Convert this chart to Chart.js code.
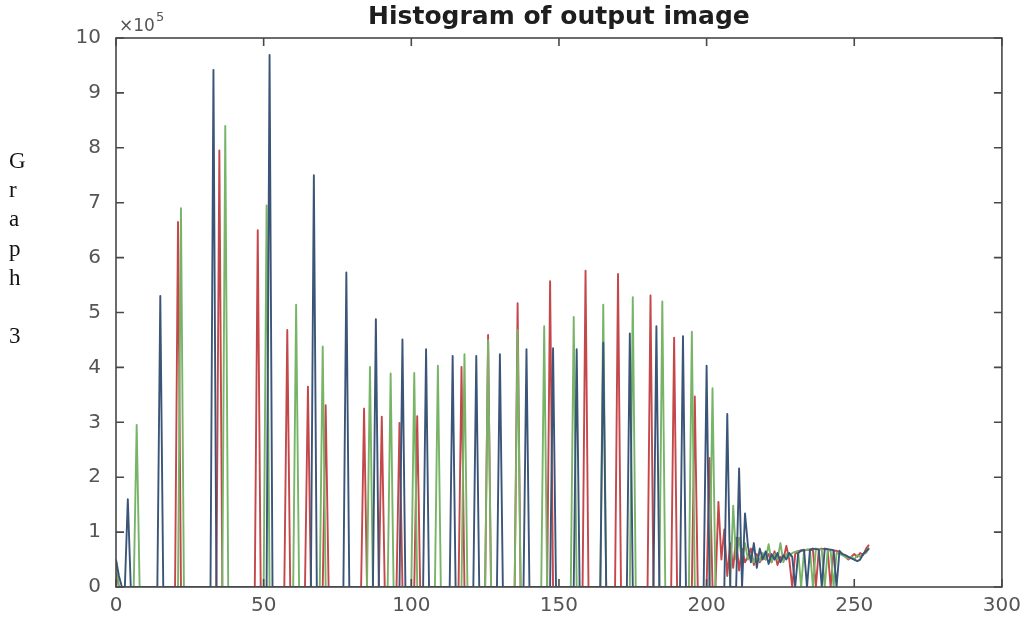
<!DOCTYPE html>
<html>
<head>
<meta charset="utf-8">
<title>Histogram of output image</title>
<script src="https://cdn.jsdelivr.net/npm/chart.js@4/dist/chart.umd.min.js"></script>
<style>
    body { margin: 0; background: #fff; }
    #wrap { position: relative; width: 1028px; height: 624px; }
    #myChart { position: absolute; left: 0; top: 0; }
    #side {
        position: absolute; left: 9px; top: 146px;
        font-family: "Liberation Serif", "Times New Roman", serif;
        font-size: 23px; line-height: 29.2px; color: #111;
    }
</style>
</head>
<body>
<div id="wrap">
    <canvas id="myChart" width="1028" height="624"></canvas>
    <div id="side">G<br>r<br>a<br>p<br>h<br><br>3</div>
</div>
<script>
// histogram counts, in units of 1e5 pixels, per channel
// spikes: bin number + count, everything else in the spike range is empty
var redPeakBins = [0, 21, 35, 48, 58, 65, 71, 84, 90, 96, 102, 117, 126, 136, 147, 159, 170, 181, 189, 196, 201, 204];
var redPeakCounts = [0.25, 6.65, 7.95, 6.5, 4.68, 3.65, 3.31, 3.25, 3.1, 2.99, 3.11, 4.01, 4.59, 5.17, 5.57, 5.76, 5.7, 5.31, 4.54, 3.47, 2.35, 1.55];

var greenPeakBins = [0, 7, 22, 37, 51, 61, 70, 86, 93, 101, 109, 118, 126, 136, 145, 155, 165, 175, 185, 195, 202, 209];
var greenPeakCounts = [0.5, 2.95, 6.9, 8.4, 6.95, 5.14, 4.38, 4.01, 3.89, 3.9, 4.03, 4.24, 4.5, 4.68, 4.75, 4.92, 5.14, 5.28, 5.2, 4.65, 3.62, 1.48];

var bluePeakBins = [0, 1, 4, 15, 33, 52, 67, 78, 88, 97, 105, 114, 122, 130, 139, 148, 156, 165, 174, 183, 192, 200, 207, 211, 213];
var bluePeakCounts = [0.5, 0.2, 1.6, 5.3, 9.42, 9.69, 7.5, 5.73, 4.88, 4.51, 4.33, 4.21, 4.21, 4.24, 4.33, 4.35, 4.33, 4.45, 4.62, 4.75, 4.57, 4.03, 3.15, 2.16, 1.34];

// dense bright end of the histogram, one value per bin from the start bin to 255
var redTailStart = 205;
var redTail = [0.5, 1.05, 0.2, 0.8, 0.35, 0.9, 0.3, 0.7, 0.45,
    0.55, 0.7, 0.4, 0.6, 0.45, 0.55,
    0.5, 0.6, 0.45, 0.65, 0.4, 0.55, 0.5, 0.75, 0.5, 0,
    0.6, 0.65, 0.67, 0.66, 0.68, 0.67, 0.68, 0, 0.68, 0.7,
    0.69, 0.68, 0, 0.66, 0.66, 0.64, 0.6, 0.55, 0.5, 0.55,
    0.6, 0.55, 0.62, 0.58, 0.7, 0.77];

var greenTailStart = 210;
var greenTail = [0.5, 0.9, 0.45, 0.8,
    0.5, 0.6, 0.45, 0.55, 0.48, 0.62,
    0.5, 0.78, 0.45, 0.6, 0.5, 0.8, 0.45, 0.6, 0.55, 0.62,
    0.64, 0.66, 0, 0.67, 0.68, 0.69, 0, 0.7, 0.69, 0.68,
    0, 0.67, 0.66, 0, 0.62, 0.6, 0.58, 0.55, 0.52, 0.55,
    0.5, 0.58, 0.55, 0.6, 0.62, 0.72];

var blueTailStart = 214;
var blueTail = [0.75, 0.45, 0.8, 0.35, 0.7, 0.5,
    0.65, 0.42, 0.6, 0.5, 0.62, 0.45, 0.58, 0.5, 0.62, 0.55,
    0, 0.62, 0.66, 0.68, 0, 0.68, 0.7, 0.69, 0.68, 0,
    0.7, 0.69, 0.68, 0.67, 0, 0.66, 0.6, 0.58, 0.55, 0.52,
    0.5, 0.47, 0.5, 0.6, 0.65, 0.7];

var numBins = 256;
var xTicks = [0, 50, 100, 150, 200, 250, 300];
var yTicks = [0, 1, 2, 3, 4, 5, 6, 7, 8, 9, 10];

var tickFont = { family: '"DejaVu Sans", sans-serif', size: 20 };
var textColor = '#555';

function buildSeries(peakBins, peakCounts, tailStart, tail) {
    var counts = [];
    for (var i = 0; i < numBins; i++) counts.push(0);
    peakBins.forEach(function (b, i) { counts[b] = peakCounts[i]; });
    tail.forEach(function (v, i) { counts[tailStart + i] = v; });
    return counts.map(function (v, i) { return { x: i, y: v }; });
}

// matlab-style box with inward ticks + the x10^5 exponent
var boxTicks = {
    id: 'boxTicks',
    afterDatasetsDraw: function (chart) {
        var ctx = chart.ctx, a = chart.chartArea;
        var xs = chart.scales.x, ys = chart.scales.y;
        var len = 8;
        ctx.save();
        ctx.strokeStyle = '#484848';
        ctx.lineWidth = 1.6;
        ctx.strokeRect(a.left, a.top, a.right - a.left, a.bottom - a.top);
        ctx.beginPath();
        xTicks.forEach(function (t) {
            var px = xs.getPixelForValue(t);
            ctx.moveTo(px, a.bottom); ctx.lineTo(px, a.bottom - len);
            ctx.moveTo(px, a.top); ctx.lineTo(px, a.top + len);
        });
        yTicks.forEach(function (t) {
            var py = ys.getPixelForValue(t);
            ctx.moveTo(a.left, py); ctx.lineTo(a.left + len, py);
            ctx.moveTo(a.right, py); ctx.lineTo(a.right - len, py);
        });
        ctx.stroke();

        ctx.fillStyle = textColor;
        ctx.textBaseline = 'alphabetic';
        ctx.textAlign = 'left';
        ctx.font = '17px "DejaVu Sans", sans-serif';
        var base = '\u00d710';
        ctx.fillText(base, a.left + 3, 31);
        var w = ctx.measureText(base).width;
        ctx.font = '13px "DejaVu Sans", sans-serif';
        ctx.fillText('5', a.left + 4 + w, 21);
        ctx.restore();
    }
};

var myChart;

function drawChart() {
    var ctx = document.getElementById('myChart').getContext('2d');
    myChart = new Chart(ctx, {
        type: 'line',
        data: {
            datasets: [
                { label: 'Blue', data: buildSeries(bluePeakBins, bluePeakCounts, blueTailStart, blueTail), borderColor: '#3b5578' },
                { label: 'Green', data: buildSeries(greenPeakBins, greenPeakCounts, greenTailStart, greenTail), borderColor: '#78b468' },
                { label: 'Red', data: buildSeries(redPeakBins, redPeakCounts, redTailStart, redTail), borderColor: '#c4474a' }
            ]
        },
        options: {
            responsive: false,
            animation: false,
            layout: { padding: { left: 46, right: 25, top: 0, bottom: 0 } },
            elements: {
                point: { radius: 0 },
                line: { borderWidth: 1.9, tension: 0, borderJoinStyle: 'round', fill: false }
            },
            plugins: {
                legend: { display: false },
                tooltip: { enabled: false },
                title: {
                    display: true,
                    text: 'Histogram of output image',
                    fullSize: false,
                    color: '#1e1e1e',
                    font: { family: '"DejaVu Sans", sans-serif', size: 25, weight: 'bold' },
                    padding: { top: 2, bottom: 6 }
                }
            },
            scales: {
                x: {
                    type: 'linear',
                    min: 0,
                    max: 300,
                    afterBuildTicks: function (s) { s.ticks = xTicks.map(function (v) { return { value: v }; }); },
                    ticks: { color: textColor, font: tickFont, padding: 7, maxRotation: 0 },
                    grid: { display: false, drawTicks: false },
                    border: { display: false },
                    afterFit: function (s) { s.height = 37; }
                },
                y: {
                    min: 0,
                    max: 10,
                    afterBuildTicks: function (s) { s.ticks = yTicks.map(function (v) { return { value: v }; }); },
                    ticks: { color: textColor, font: tickFont, padding: 15 },
                    grid: { display: false, drawTicks: false },
                    border: { display: false },
                    afterFit: function (s) { s.width = 70; }
                }
            }
        },
        plugins: [boxTicks]
    });
}

window.onload = function () {
    drawChart();
};
</script>
</body>
</html>
